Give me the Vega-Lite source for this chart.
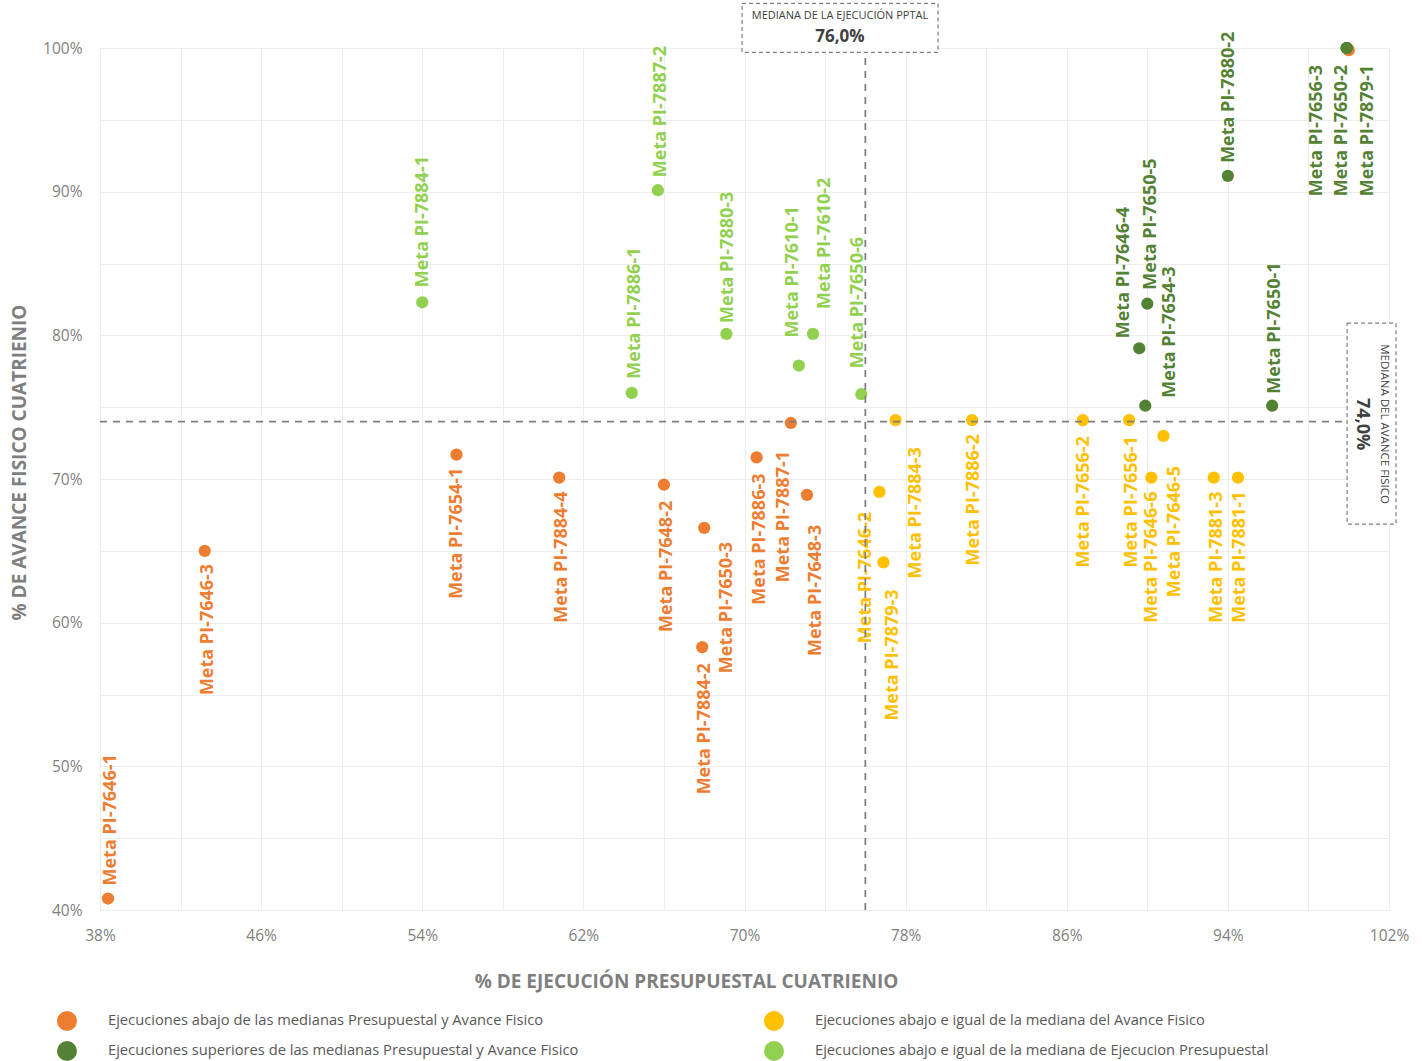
{
  "$schema": "https://vega.github.io/schema/vega-lite/v6.json",
  "width": 1289,
  "height": 862,
  "autosize": "none",
  "padding": {"left": 100, "top": 48, "right": 36, "bottom": 151},
  "background": "white",
  "config": {"view": {"stroke": null}, "font": "Open Sans"},
  "datasets": {
    "metas": [
      {"meta": "", "ejecucion": 100.0, "avance": 99.85, "grupo": "Ejecuciones abajo de las medianas Presupuestal y Avance Fisico"},
      {"meta": "Meta PI-7646-1", "ejecucion": 38.4, "avance": 40.8, "grupo": "Ejecuciones abajo de las medianas Presupuestal y Avance Fisico"},
      {"meta": "Meta PI-7646-3", "ejecucion": 43.2, "avance": 65.0, "grupo": "Ejecuciones abajo de las medianas Presupuestal y Avance Fisico"},
      {"meta": "Meta PI-7654-1", "ejecucion": 55.7, "avance": 71.7, "grupo": "Ejecuciones abajo de las medianas Presupuestal y Avance Fisico"},
      {"meta": "Meta PI-7884-4", "ejecucion": 60.8, "avance": 70.1, "grupo": "Ejecuciones abajo de las medianas Presupuestal y Avance Fisico"},
      {"meta": "Meta PI-7648-2", "ejecucion": 66.0, "avance": 69.6, "grupo": "Ejecuciones abajo de las medianas Presupuestal y Avance Fisico"},
      {"meta": "Meta PI-7650-3", "ejecucion": 68.0, "avance": 66.6, "grupo": "Ejecuciones abajo de las medianas Presupuestal y Avance Fisico"},
      {"meta": "Meta PI-7884-2", "ejecucion": 67.9, "avance": 58.3, "grupo": "Ejecuciones abajo de las medianas Presupuestal y Avance Fisico"},
      {"meta": "Meta PI-7886-3", "ejecucion": 70.6, "avance": 71.5, "grupo": "Ejecuciones abajo de las medianas Presupuestal y Avance Fisico"},
      {"meta": "Meta PI-7887-1", "ejecucion": 72.3, "avance": 73.9, "grupo": "Ejecuciones abajo de las medianas Presupuestal y Avance Fisico"},
      {"meta": "Meta PI-7648-3", "ejecucion": 73.1, "avance": 68.9, "grupo": "Ejecuciones abajo de las medianas Presupuestal y Avance Fisico"},
      {"meta": "Meta PI-7646-2", "ejecucion": 76.7, "avance": 69.1, "grupo": "Ejecuciones abajo e igual de la mediana del Avance Fisico"},
      {"meta": "Meta PI-7879-3", "ejecucion": 76.9, "avance": 64.2, "grupo": "Ejecuciones abajo e igual de la mediana del Avance Fisico"},
      {"meta": "Meta PI-7884-3", "ejecucion": 77.5, "avance": 74.1, "grupo": "Ejecuciones abajo e igual de la mediana del Avance Fisico"},
      {"meta": "Meta PI-7886-2", "ejecucion": 81.3, "avance": 74.1, "grupo": "Ejecuciones abajo e igual de la mediana del Avance Fisico"},
      {"meta": "Meta PI-7656-2", "ejecucion": 86.8, "avance": 74.1, "grupo": "Ejecuciones abajo e igual de la mediana del Avance Fisico"},
      {"meta": "Meta PI-7656-1", "ejecucion": 89.1, "avance": 74.1, "grupo": "Ejecuciones abajo e igual de la mediana del Avance Fisico"},
      {"meta": "Meta PI-7646-6", "ejecucion": 90.2, "avance": 70.1, "grupo": "Ejecuciones abajo e igual de la mediana del Avance Fisico"},
      {"meta": "Meta PI-7646-5", "ejecucion": 90.8, "avance": 73.0, "grupo": "Ejecuciones abajo e igual de la mediana del Avance Fisico"},
      {"meta": "Meta PI-7881-3", "ejecucion": 93.3, "avance": 70.1, "grupo": "Ejecuciones abajo e igual de la mediana del Avance Fisico"},
      {"meta": "Meta PI-7881-1", "ejecucion": 94.5, "avance": 70.1, "grupo": "Ejecuciones abajo e igual de la mediana del Avance Fisico"},
      {"meta": "Meta PI-7884-1", "ejecucion": 54.0, "avance": 82.3, "grupo": "Ejecuciones abajo e igual de la mediana de Ejecucion Presupuestal"},
      {"meta": "Meta PI-7887-2", "ejecucion": 65.7, "avance": 90.1, "grupo": "Ejecuciones abajo e igual de la mediana de Ejecucion Presupuestal"},
      {"meta": "Meta PI-7886-1", "ejecucion": 64.4, "avance": 76.0, "grupo": "Ejecuciones abajo e igual de la mediana de Ejecucion Presupuestal"},
      {"meta": "Meta PI-7880-3", "ejecucion": 69.1, "avance": 80.1, "grupo": "Ejecuciones abajo e igual de la mediana de Ejecucion Presupuestal"},
      {"meta": "Meta PI-7610-1", "ejecucion": 72.7, "avance": 77.9, "grupo": "Ejecuciones abajo e igual de la mediana de Ejecucion Presupuestal"},
      {"meta": "Meta PI-7610-2", "ejecucion": 73.4, "avance": 80.1, "grupo": "Ejecuciones abajo e igual de la mediana de Ejecucion Presupuestal"},
      {"meta": "Meta PI-7650-6", "ejecucion": 75.8, "avance": 75.9, "grupo": "Ejecuciones abajo e igual de la mediana de Ejecucion Presupuestal"},
      {"meta": "Meta PI-7646-4", "ejecucion": 89.6, "avance": 79.1, "grupo": "Ejecuciones superiores de las medianas Presupuestal y Avance Fisico"},
      {"meta": "Meta PI-7650-5", "ejecucion": 90.0, "avance": 82.2, "grupo": "Ejecuciones superiores de las medianas Presupuestal y Avance Fisico"},
      {"meta": "Meta PI-7654-3", "ejecucion": 89.9, "avance": 75.1, "grupo": "Ejecuciones superiores de las medianas Presupuestal y Avance Fisico"},
      {"meta": "Meta PI-7880-2", "ejecucion": 94.0, "avance": 91.1, "grupo": "Ejecuciones superiores de las medianas Presupuestal y Avance Fisico"},
      {"meta": "Meta PI-7650-1", "ejecucion": 96.2, "avance": 75.1, "grupo": "Ejecuciones superiores de las medianas Presupuestal y Avance Fisico"},
      {"meta": "Meta PI-7656-3", "ejecucion": 99.9, "avance": 100.0, "grupo": "Ejecuciones superiores de las medianas Presupuestal y Avance Fisico"},
      {"meta": "Meta PI-7650-2", "ejecucion": 99.9, "avance": 100.0, "grupo": "Ejecuciones superiores de las medianas Presupuestal y Avance Fisico"},
      {"meta": "Meta PI-7879-1", "ejecucion": 99.9, "avance": 100.0, "grupo": "Ejecuciones superiores de las medianas Presupuestal y Avance Fisico"}
    ]
  },
  "layer": [
    {
      "data": {"name": "metas"},
      "mark": {"type": "circle", "size": 150, "opacity": 1},
      "encoding": {
        "x": {
          "field": "ejecucion", "type": "quantitative",
          "scale": {"domain": [38, 102], "nice": false, "zero": false},
          "axis": {
            "title": "% DE EJECUCIÓN PRESUPUESTAL CUATRIENIO",
            "values": [38, 42, 46, 50, 54, 58, 62, 66, 70, 74, 78, 82, 86, 90, 94, 98, 102],
            "labelExpr": "(datum.value - 38) % 8 == 0 ? datum.value + '%' : ''",
            "grid": true, "gridColor": "#ededed", "gridWidth": 1,
            "domain": false, "ticks": false, "labelFlush": false, "labelOverlap": false,
            "labelPadding": 18, "labelFont": "Open Sans", "labelFontSize": 15.5, "labelColor": "#7f7f7f",
            "titleFont": "Open Sans", "titleFontSize": 19, "titleFontWeight": "bold", "titleColor": "#7f7f7f",
            "titleX": 586, "titleY": 77, "titleAlign": "center", "titleBaseline": "alphabetic"
          }
        },
        "y": {
          "field": "avance", "type": "quantitative",
          "scale": {"domain": [40, 100], "nice": false, "zero": false},
          "axis": {
            "title": "% DE AVANCE FISICO CUATRIENIO",
            "values": [40, 45, 50, 55, 60, 65, 70, 75, 80, 85, 90, 95, 100],
            "labelExpr": "datum.value % 10 == 0 ? datum.value + '%' : ''",
            "grid": true, "gridColor": "#ededed", "gridWidth": 1,
            "domain": false, "ticks": false, "labelFlush": false, "labelOverlap": false,
            "labelPadding": 18, "labelFont": "Open Sans", "labelFontSize": 15.5, "labelColor": "#7f7f7f",
            "titleFont": "Open Sans", "titleFontSize": 19, "titleFontWeight": "bold", "titleColor": "#7f7f7f",
            "titleX": -75, "titleY": 414, "titleAngle": 270, "titleAlign": "center", "titleBaseline": "alphabetic"
          }
        },
        "color": {
          "field": "grupo", "type": "nominal",
          "scale": {
            "domain": [
              "Ejecuciones abajo de las medianas Presupuestal y Avance Fisico",
              "Ejecuciones superiores de las medianas Presupuestal y Avance Fisico",
              "Ejecuciones abajo e igual de la mediana del Avance Fisico",
              "Ejecuciones abajo e igual de la mediana de Ejecucion Presupuestal"
            ],
            "range": ["#ED7D31", "#548235", "#FFC000", "#92D050"]
          },
          "legend": {
            "orient": "none", "legendX": -43, "legendY": 963, "columns": 2,
            "columnPadding": 185, "rowPadding": 10, "symbolType": "circle", "symbolSize": 400,
            "symbolOpacity": 1, "symbolStrokeWidth": 0, "labelFont": "Open Sans", "labelFontSize": 14.7,
            "labelColor": "#595959", "labelOffset": 31, "labelLimit": 0, "title": null
          }
        }
      }
    },
    {
      "data": {"name": "metas"},
      "transform": [
        {"filter": "datum.meta != '' && indexof(['Meta PI-7646-1','Meta PI-7884-1','Meta PI-7887-2','Meta PI-7886-1','Meta PI-7880-3','Meta PI-7610-1','Meta PI-7610-2','Meta PI-7650-6','Meta PI-7646-4','Meta PI-7650-5','Meta PI-7654-3','Meta PI-7880-2','Meta PI-7650-1'], datum.meta) >= 0"}
      ],
      "mark": {
        "type": "text", "angle": 270, "align": "left", "baseline": "middle",
        "font": "Open Sans", "fontWeight": "bold", "fontSize": 18,
        "dx": {"expr": "({'Meta PI-7646-1':13,'Meta PI-7884-1':15,'Meta PI-7887-2':13,'Meta PI-7886-1':14,'Meta PI-7880-3':11,'Meta PI-7610-1':28,'Meta PI-7610-2':25,'Meta PI-7650-6':26,'Meta PI-7646-4':10,'Meta PI-7650-5':14,'Meta PI-7654-3':8,'Meta PI-7880-2':13,'Meta PI-7650-1':12})[datum.meta]"},
        "dy": {"expr": "({'Meta PI-7646-1':3,'Meta PI-7884-1':1,'Meta PI-7887-2':3,'Meta PI-7886-1':3,'Meta PI-7880-3':2,'Meta PI-7610-1':-6,'Meta PI-7610-2':12,'Meta PI-7650-6':-3,'Meta PI-7646-4':-15,'Meta PI-7650-5':4,'Meta PI-7654-3':25,'Meta PI-7880-2':1,'Meta PI-7650-1':3})[datum.meta]"}
      },
      "encoding": {
        "x": {"field": "ejecucion", "type": "quantitative"},
        "y": {"field": "avance", "type": "quantitative"},
        "text": {"field": "meta"},
        "color": {"field": "grupo", "type": "nominal", "legend": null}
      }
    },
    {
      "data": {"name": "metas"},
      "transform": [
        {"filter": "datum.meta != '' && indexof(['Meta PI-7646-1','Meta PI-7884-1','Meta PI-7887-2','Meta PI-7886-1','Meta PI-7880-3','Meta PI-7610-1','Meta PI-7610-2','Meta PI-7650-6','Meta PI-7646-4','Meta PI-7650-5','Meta PI-7654-3','Meta PI-7880-2','Meta PI-7650-1'], datum.meta) < 0"}
      ],
      "mark": {
        "type": "text", "angle": 270, "align": "right", "baseline": "middle",
        "font": "Open Sans", "fontWeight": "bold", "fontSize": 18,
        "dx": {"expr": "-({'Meta PI-7646-3':13,'Meta PI-7654-1':13,'Meta PI-7884-4':14,'Meta PI-7648-2':16,'Meta PI-7650-3':14,'Meta PI-7884-2':16,'Meta PI-7886-3':16,'Meta PI-7887-1':28,'Meta PI-7648-3':30,'Meta PI-7646-2':20,'Meta PI-7879-3':27,'Meta PI-7884-3':27,'Meta PI-7886-2':14,'Meta PI-7656-2':16,'Meta PI-7656-1':16,'Meta PI-7646-6':14,'Meta PI-7646-5':30,'Meta PI-7881-3':14,'Meta PI-7881-1':14,'Meta PI-7656-3':17,'Meta PI-7650-2':17,'Meta PI-7879-1':17})[datum.meta]"},
        "dy": {"expr": "({'Meta PI-7646-3':3,'Meta PI-7654-1':1,'Meta PI-7884-4':3,'Meta PI-7648-2':3,'Meta PI-7650-3':23,'Meta PI-7884-2':3,'Meta PI-7886-3':3,'Meta PI-7887-1':-7,'Meta PI-7648-3':9,'Meta PI-7646-2':-13,'Meta PI-7879-3':10,'Meta PI-7884-3':20,'Meta PI-7886-2':2,'Meta PI-7656-2':1,'Meta PI-7656-1':3,'Meta PI-7646-6':1,'Meta PI-7646-5':12,'Meta PI-7881-3':3,'Meta PI-7881-1':2,'Meta PI-7656-3':-30,'Meta PI-7650-2':-5,'Meta PI-7879-1':21})[datum.meta]"}
      },
      "encoding": {
        "x": {"field": "ejecucion", "type": "quantitative"},
        "y": {"field": "avance", "type": "quantitative"},
        "text": {"field": "meta"},
        "color": {"field": "grupo", "type": "nominal", "legend": null}
      }
    },
    {
      "data": {"values": [{"ejecucion": 76.0, "avance": 40, "avance_hasta": 99.7}]},
      "mark": {"type": "rule", "color": "#7f7f7f", "strokeDash": [7, 6], "strokeWidth": 1.75},
      "encoding": {
        "x": {"field": "ejecucion", "type": "quantitative"},
        "y": {"field": "avance", "type": "quantitative"},
        "y2": {"field": "avance_hasta"}
      }
    },
    {
      "data": {"values": [{"avance": 74.0, "ejecucion": 38, "ejecucion_hasta": 99.92}]},
      "mark": {"type": "rule", "color": "#7f7f7f", "strokeDash": [7, 6], "strokeWidth": 1.75},
      "encoding": {
        "y": {"field": "avance", "type": "quantitative"},
        "x": {"field": "ejecucion", "type": "quantitative"},
        "x2": {"field": "ejecucion_hasta"}
      }
    },
    {
      "data": {"values": [
        {"ejecucion": 69.88, "ejecucion_hasta": 79.61, "avance": 103.1, "avance_hasta": 99.7},
        {"ejecucion": 99.92, "ejecucion_hasta": 102.35, "avance": 80.85, "avance_hasta": 66.86}
      ]},
      "mark": {"type": "rect", "fill": "white", "stroke": "#7f7f7f", "strokeDash": [4, 3], "strokeWidth": 1.2},
      "encoding": {
        "x": {"field": "ejecucion", "type": "quantitative"},
        "x2": {"field": "ejecucion_hasta"},
        "y": {"field": "avance", "type": "quantitative"},
        "y2": {"field": "avance_hasta"}
      }
    },
    {
      "data": {"values": [{"texto": "MEDIANA DE LA EJECUCIÓN PPTAL", "ejecucion": 74.74, "avance": 102.2}]},
      "mark": {"type": "text", "font": "Open Sans", "fontSize": 11, "color": "#404040", "align": "center", "baseline": "middle"},
      "encoding": {
        "x": {"field": "ejecucion", "type": "quantitative"},
        "y": {"field": "avance", "type": "quantitative"},
        "text": {"field": "texto"}
      }
    },
    {
      "data": {"values": [{"texto": "76,0%", "ejecucion": 74.74, "avance": 100.75}]},
      "mark": {"type": "text", "font": "Open Sans", "fontSize": 17, "fontWeight": "bold", "color": "#404040", "align": "center", "baseline": "middle"},
      "encoding": {
        "x": {"field": "ejecucion", "type": "quantitative"},
        "y": {"field": "avance", "type": "quantitative"},
        "text": {"field": "texto"}
      }
    },
    {
      "data": {"values": [{"texto": "MEDIANA DEL AVANCE FISICO", "ejecucion": 101.75, "avance": 73.82}]},
      "mark": {"type": "text", "font": "Open Sans", "fontSize": 11.5, "color": "#404040", "align": "center", "baseline": "middle", "angle": 90},
      "encoding": {
        "x": {"field": "ejecucion", "type": "quantitative"},
        "y": {"field": "avance", "type": "quantitative"},
        "text": {"field": "texto"}
      }
    },
    {
      "data": {"values": [{"texto": "74,0%", "ejecucion": 100.66, "avance": 73.82}]},
      "mark": {"type": "text", "font": "Open Sans", "fontSize": 18, "fontWeight": "bold", "color": "#404040", "align": "center", "baseline": "middle", "angle": 90},
      "encoding": {
        "x": {"field": "ejecucion", "type": "quantitative"},
        "y": {"field": "avance", "type": "quantitative"},
        "text": {"field": "texto"}
      }
    }
  ]
}
